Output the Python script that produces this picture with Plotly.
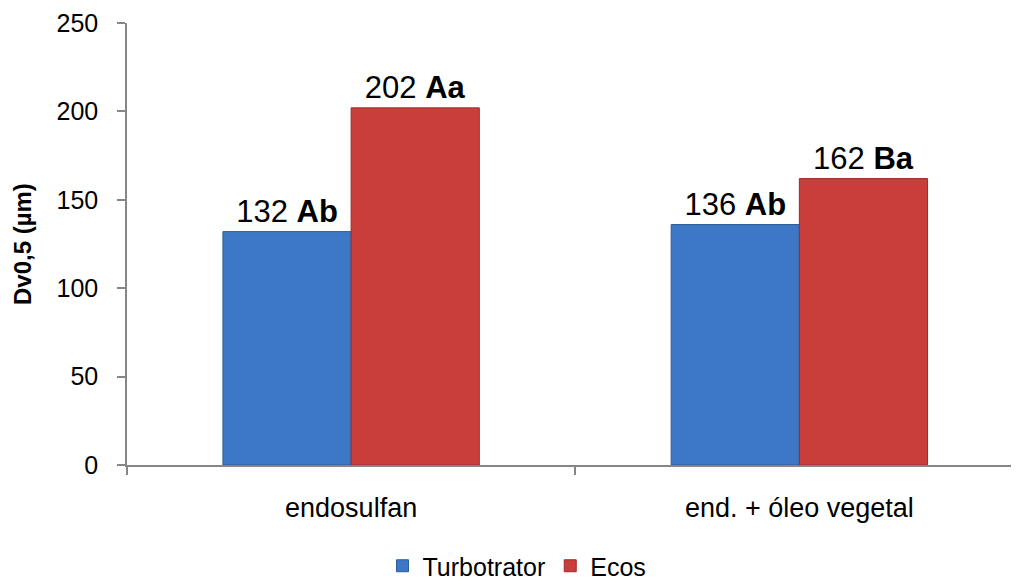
import plotly.graph_objects as go

categories = ["endosulfan", "end. + óleo vegetal"]
turbotrator = [132, 136]
ecos = [202, 162]
turbo_letters = ["Ab", "Ab"]
ecos_letters = ["Aa", "Ba"]
y_ticks = [0, 50, 100, 150, 200, 250]

FONT = "Liberation Sans, Arial, sans-serif"
W, H = 1011, 578  # page body adds an 8px margin around the figure

def labels(vals, letters):
    return [f"{v} <b>{l}</b>" for v, l in zip(vals, letters)]

fig = go.Figure()
fig.add_trace(go.Bar(
    name="Turbotrator", x=categories, y=turbotrator,
    text=labels(turbotrator, turbo_letters), textposition="outside",
    textfont=dict(size=31, color="black", family=FONT),
    marker=dict(color="#3D78C6", line=dict(color="#2E5B99", width=1)),
    cliponaxis=False,
))
fig.add_trace(go.Bar(
    name="Ecos", x=categories, y=ecos,
    text=labels(ecos, ecos_letters), textposition="outside",
    textfont=dict(size=31, color="black", family=FONT),
    marker=dict(color="#C93E3B", line=dict(color="#9C2C2A", width=1)),
    cliponaxis=False,
))

fig.update_layout(
    width=W, height=H,
    margin=dict(l=119, r=0, t=15, b=121),
    paper_bgcolor="white", plot_bgcolor="white",
    barmode="group", bargap=0.428, bargroupgap=0,
    font=dict(family=FONT, size=25, color="black"),
    showlegend=True,
    legend=dict(orientation="h", xref="container", yref="container",
                x=509 / W, xanchor="center", y=1 - 558 / H, yanchor="middle",
                font=dict(size=25), itemwidth=30, tracegroupgap=0),
    annotations=[dict(text="<b>Dv0,5 (µm)</b>", textangle=-90,
                      xref="paper", yref="paper", x=(14 - 119) / (W - 119),
                      y=0.5, xanchor="center", yanchor="middle",
                      showarrow=False, font=dict(size=24, color="black"))],
)
fig.update_xaxes(
    type="category", range=[-0.5, 1.49], automargin=False,
    showline=True, linecolor="#868686", linewidth=1.5,
    ticks="outside", tickson="boundaries", ticklen=8, tickcolor="#868686",
    tickwidth=1.5, showgrid=False, tickfont=dict(size=27),
    ticklabelstandoff=18,
)
fig.update_yaxes(
    range=[0, 250], tickvals=y_ticks, automargin=False,
    showline=True, linecolor="#868686", linewidth=1.5,
    ticks="outside", ticklen=8, tickcolor="#868686", tickwidth=1.5,
    showgrid=False, zeroline=False, tickfont=dict(size=25),
    ticklabelstandoff=14, ticklabeloverflow="allow",
)

fig.write_html("out.html")
